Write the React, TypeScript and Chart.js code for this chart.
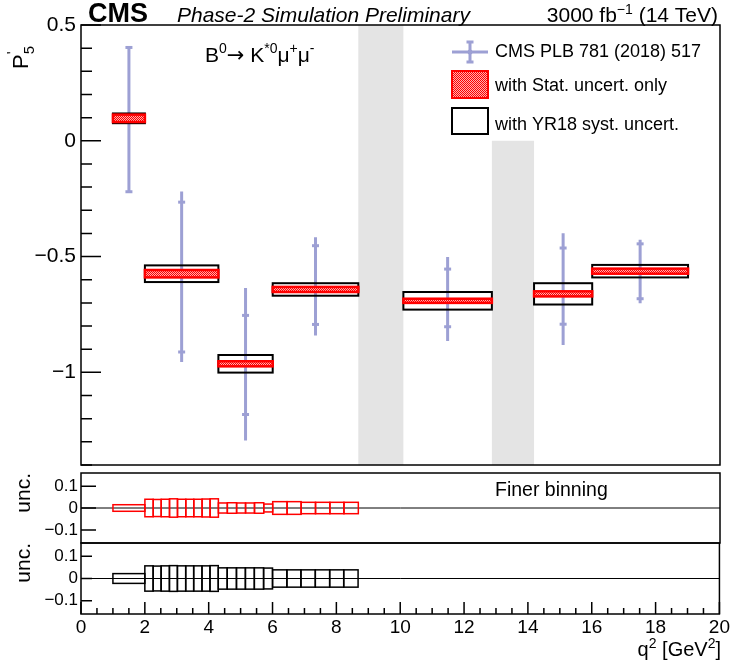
import React, { useEffect, useRef } from "react";
import { Chart, registerables } from "chart.js";
Chart.register(...registerables);

const FONT = "'Liberation Sans', Arial, Helvetica, sans-serif";
const CMS_BLUE = "rgb(157,160,212)";
const RED = "#ff0000";

// ---- main panel data (P5') ----
const binLow = [1, 2, 4.3, 6, 10.09, 14.18, 16];
const binHigh = [2, 4.3, 6, 8.68, 12.86, 16, 19];
const projCentral = [0.097, -0.574, -0.963, -0.642, -0.691, -0.661, -0.563];
const projStat = [0.016, 0.016, 0.011, 0.011, 0.009, 0.011, 0.011];
const projSyst = [0.021, 0.036, 0.038, 0.027, 0.038, 0.046, 0.027];

const cmsX = [1.5, 3.15, 5.15, 7.34, 11.475, 15.09, 17.5];
const cmsCentral = [0.097, -0.574, -0.963, -0.642, -0.691, -0.661, -0.563];
const cmsStatHi = [0.403, -0.265, -0.754, -0.453, -0.554, -0.463, -0.445];
const cmsStatLo = [-0.22, -0.912, -1.182, -0.793, -0.803, -0.792, -0.682];
const cmsTotHi = [0.407, -0.219, -0.636, -0.416, -0.502, -0.399, -0.427];
const cmsTotLo = [-0.223, -0.955, -1.294, -0.841, -0.865, -0.882, -0.701];

const vetoLow = [8.68, 12.86];
const vetoHigh = [10.09, 14.18];
const vetoTop = [0.5, 0];
const vetoBottom = [-1.4, -1.4];

// ---- finer binning uncertainties ----
const fineEdges = [1, 2, 2.26, 2.51, 2.77, 3.02, 3.28, 3.53, 3.79, 4.04, 4.3, 4.58, 4.87, 5.15, 5.43, 5.72, 6, 6.45, 6.89, 7.34, 7.79, 8.23, 8.68];
const fineStat = [0.015, 0.040, 0.039, 0.040, 0.042, 0.040, 0.040, 0.040, 0.041, 0.042, 0.023, 0.024, 0.023, 0.023, 0.024, 0.018, 0.029, 0.029, 0.026, 0.026, 0.026, 0.026];
const fineSyst = [0.022, 0.057, 0.056, 0.057, 0.058, 0.057, 0.057, 0.057, 0.057, 0.058, 0.048, 0.048, 0.048, 0.048, 0.048, 0.047, 0.039, 0.039, 0.039, 0.039, 0.039, 0.039];

// ---- ticks ----
const xTickValues = [0, 2, 4, 6, 8, 10, 12, 14, 16, 18, 20];
const xTickLabels = ["0", "2", "4", "6", "8", "10", "12", "14", "16", "18", "20"];
const mainYTicks = [0.5, 0, -0.5, -1];
const mainYTickLabels = ["0.5", "0", "\u22120.5", "\u22121"];
const uncTicks = [0.1, 0, -0.1];
const uncTickLabels = ["0.1", "0", "\u22120.1"];

type Part = { t: string; size: number; style?: string; dy?: number; family?: string };
function drawParts(ctx: CanvasRenderingContext2D, parts: Part[], x: number, y: number, align: "left" | "right") {
  ctx.textAlign = "left";
  ctx.textBaseline = "alphabetic";
  const widths = parts.map((p) => {
    ctx.font = `${p.style || ""} ${p.size}px ${p.family || FONT}`;
    return ctx.measureText(p.t).width;
  });
  const total = widths.reduce((a, b) => a + b, 0);
  let cx = align === "right" ? x - total : x;
  parts.forEach((p, i) => {
    ctx.font = `${p.style || ""} ${p.size}px ${p.family || FONT}`;
    ctx.fillText(p.t, cx, y + (p.dy || 0));
    cx += widths[i];
  });
}

let patternCache: CanvasPattern | null = null;
function redPattern(ctx: CanvasRenderingContext2D) {
  if (patternCache) return patternCache;
  const c = document.createElement("canvas");
  c.width = 2;
  c.height = 2;
  const p = c.getContext("2d")!;
  p.fillStyle = "#ffb0b0";
  p.fillRect(0, 0, 2, 2);
  p.fillStyle = RED;
  p.fillRect(0, 0, 1, 1);
  p.fillRect(1, 1, 1, 1);
  patternCache = ctx.createPattern(c, "repeat");
  return patternCache!;
}

function drawFrame(ctx: CanvasRenderingContext2D, a: any) {
  ctx.save();
  ctx.strokeStyle = "#000";
  ctx.lineWidth = 1.5;
  ctx.strokeRect(a.left, a.top, a.right - a.left, a.bottom - a.top);
  ctx.restore();
}

const mainDecor = {
  id: "mainDecor",
  beforeDatasetsDraw(chart: any) {
    const { ctx, scales } = chart;
    const { x, y } = scales;
    ctx.save();
    ctx.fillStyle = "#e4e4e4";
    for (let i = 0; i < vetoLow.length; i++) {
      const x1 = x.getPixelForValue(vetoLow[i]);
      const x2 = x.getPixelForValue(vetoHigh[i]);
      const y1 = y.getPixelForValue(vetoTop[i]);
      const y2 = y.getPixelForValue(vetoBottom[i]);
      ctx.fillRect(x1, y1, x2 - x1, y2 - y1);
    }
    ctx.restore();
  },
  afterDatasetsDraw(chart: any) {
    const { ctx, scales, chartArea } = chart;
    const { x, y } = scales;
    ctx.save();
    // syst boxes
    ctx.strokeStyle = "#000";
    ctx.lineWidth = 2;
    for (let i = 0; i < binLow.length; i++) {
      const x1 = x.getPixelForValue(binLow[i]);
      const x2 = x.getPixelForValue(binHigh[i]);
      const y1 = y.getPixelForValue(projCentral[i] + projSyst[i]);
      const y2 = y.getPixelForValue(projCentral[i] - projSyst[i]);
      ctx.strokeRect(x1, y1, x2 - x1, y2 - y1);
    }
    // stat boxes
    for (let i = 0; i < binLow.length; i++) {
      const x1 = x.getPixelForValue(binLow[i]);
      const x2 = x.getPixelForValue(binHigh[i]);
      const y1 = y.getPixelForValue(projCentral[i] + projStat[i]);
      const y2 = y.getPixelForValue(projCentral[i] - projStat[i]);
      ctx.fillStyle = redPattern(ctx);
      ctx.fillRect(x1, y1, x2 - x1, y2 - y1);
      ctx.strokeStyle = RED;
      ctx.lineWidth = 2.5;
      ctx.strokeRect(x1, y1, x2 - x1, y2 - y1);
    }
    ctx.restore();
    drawFrame(ctx, chartArea);
    // inward ticks
    ctx.save();
    ctx.strokeStyle = "#000";
    ctx.lineWidth = 1.5;
    ctx.beginPath();
    for (let k = -14; k <= 5; k++) {
      const v = k / 10;
      const py = y.getPixelForValue(v);
      const major = k % 5 === 0;
      ctx.moveTo(chartArea.left, py);
      ctx.lineTo(chartArea.left + (major ? 20 : 11), py);
    }
    ctx.stroke();
    ctx.restore();
  },
  afterDraw(chart: any) {
    const { ctx } = chart;
    ctx.save();
    ctx.fillStyle = "#000";
    drawParts(ctx, [{ t: "CMS", size: 27, style: "bold" }], 88, 22, "left");
    drawParts(ctx, [{ t: "Phase-2 Simulation Preliminary", size: 21, style: "italic" }], 177, 22, "left");
    drawParts(
      ctx,
      [
        { t: "3000 fb", size: 21 },
        { t: "\u22121", size: 14, dy: -8 },
        { t: " (14 TeV)", size: 21 },
      ],
      718,
      22,
      "right"
    );
    drawParts(
      ctx,
      [
        { t: "B", size: 21 },
        { t: "0", size: 14, dy: -9 },
        { t: "\u2192", size: 21, family: "'DejaVu Sans', sans-serif" },
        { t: " K", size: 21 },
        { t: "*0", size: 14, dy: -9 },
        { t: "\u03bc", size: 21 },
        { t: "+", size: 14, dy: -9 },
        { t: "\u03bc", size: 21 },
        { t: "-", size: 14, dy: -9 },
      ],
      205,
      62,
      "left"
    );
    // y title P'_5
    ctx.save();
    ctx.translate(28, 69);
    ctx.rotate(-Math.PI / 2);
    ctx.textAlign = "left";
    ctx.font = `22px ${FONT}`;
    ctx.fillText("P", 0, 0);
    const pw = ctx.measureText("P").width;
    ctx.font = `15px ${FONT}`;
    ctx.fillText("5", pw, 6);
    ctx.fillText("'", pw, -11);
    ctx.restore();

    // legend
    ctx.save();
    ctx.strokeStyle = CMS_BLUE;
    ctx.fillStyle = CMS_BLUE;
    ctx.lineWidth = 3;
    ctx.beginPath();
    ctx.moveTo(452, 52);
    ctx.lineTo(488, 52);
    ctx.moveTo(470, 42);
    ctx.lineTo(470, 62);
    ctx.moveTo(466.5, 42);
    ctx.lineTo(473.5, 42);
    ctx.moveTo(466.5, 62);
    ctx.lineTo(473.5, 62);
    ctx.stroke();
    ctx.beginPath();
    ctx.arc(470, 52, 2.5, 0, Math.PI * 2);
    ctx.fill();
    ctx.fillStyle = redPattern(ctx);
    ctx.fillRect(452, 71, 36, 27);
    ctx.strokeStyle = RED;
    ctx.lineWidth = 2;
    ctx.strokeRect(452, 71, 36, 27);
    ctx.strokeStyle = "#000";
    ctx.strokeRect(452, 108, 36, 26);
    ctx.restore();
    ctx.fillStyle = "#000";
    drawParts(ctx, [{ t: "CMS PLB 781 (2018) 517", size: 18 }], 495, 57, "left");
    drawParts(ctx, [{ t: "with Stat. uncert. only", size: 18 }], 495, 91, "left");
    drawParts(ctx, [{ t: "with YR18 syst. uncert.", size: 18 }], 495, 130, "left");
    ctx.restore();
  },
};

function makeUncDecor(id: string, values: number[], color: string, tickLen: number, opts: { finer?: boolean; xTicks?: boolean }) {
  return {
    id,
    afterDatasetsDraw(chart: any) {
      const { ctx, scales, chartArea } = chart;
      const { x, y } = scales;
      ctx.save();
      ctx.strokeStyle = color;
      ctx.lineWidth = 1.5;
      for (let i = 0; i < values.length; i++) {
        const x1 = x.getPixelForValue(fineEdges[i]);
        const x2 = x.getPixelForValue(fineEdges[i + 1]);
        const y1 = y.getPixelForValue(values[i]);
        const y2 = y.getPixelForValue(-values[i]);
        ctx.strokeRect(x1, y1, x2 - x1, y2 - y1);
      }
      ctx.restore();
      drawFrame(ctx, chartArea);
      ctx.save();
      ctx.strokeStyle = "#000";
      ctx.lineWidth = 1.5;
      ctx.beginPath();
      for (const v of uncTicks) {
        const py = y.getPixelForValue(v);
        ctx.moveTo(chartArea.left, py);
        ctx.lineTo(chartArea.left + tickLen, py);
      }
      if (opts.xTicks) {
        for (let k = 0; k <= 40; k++) {
          const px = x.getPixelForValue(k / 2);
          const major = k % 4 === 0;
          ctx.moveTo(px, chartArea.bottom);
          ctx.lineTo(px, chartArea.bottom - (major ? 12 : 6));
        }
      }
      ctx.stroke();
      ctx.restore();
    },
    afterDraw(chart: any) {
      const { ctx, chartArea } = chart;
      ctx.save();
      ctx.fillStyle = "#000";
      ctx.save();
      ctx.translate(30, chartArea.top);
      ctx.rotate(-Math.PI / 2);
      ctx.textAlign = "right";
      ctx.textBaseline = "alphabetic";
      ctx.font = `21px ${FONT}`;
      ctx.fillText("unc.", 0, 0);
      ctx.restore();
      if (opts.finer) {
        drawParts(ctx, [{ t: "Finer binning", size: 19.5 }], 495, 496, "left");
      }
      if (opts.xTicks) {
        drawParts(
          ctx,
          [
            { t: "q", size: 20 },
            { t: "2", size: 14, dy: -8 },
            { t: " [GeV", size: 20 },
            { t: "2", size: 14, dy: -8 },
            { t: "]", size: 20 },
          ],
          721,
          656,
          "right"
        );
      }
      ctx.restore();
    },
  };
}

function mainConfig(): any {
  const errLine: any[] = [];
  const caps: any[] = [];
  const central: any[] = [];
  for (let i = 0; i < cmsX.length; i++) {
    errLine.push({ x: cmsX[i], y: cmsTotLo[i] }, { x: cmsX[i], y: cmsTotHi[i] }, { x: cmsX[i], y: null });
    caps.push({ x: cmsX[i], y: cmsStatHi[i] }, { x: cmsX[i], y: cmsStatLo[i] });
    central.push({ x: cmsX[i], y: cmsCentral[i] });
  }
  return {
    type: "scatter",
    data: {
      datasets: [
        { label: "CMS PLB 781 (2018) 517", data: errLine, showLine: true, spanGaps: false, borderColor: CMS_BLUE, borderWidth: 3, pointRadius: 0, fill: false },
        { label: "stat caps", data: caps, pointStyle: "line", pointRadius: 3.5, pointBorderWidth: 3, borderColor: CMS_BLUE, backgroundColor: CMS_BLUE },
        { label: "central", data: central, pointRadius: 2, borderColor: CMS_BLUE, backgroundColor: CMS_BLUE },
      ],
    },
    options: {
      responsive: false,
      animation: false,
      devicePixelRatio: 1,
      events: [],
      layout: { padding: { left: 0, right: 12, top: 25, bottom: 201 } },
      plugins: { legend: { display: false }, tooltip: { enabled: false } },
      scales: {
        x: { type: "linear", min: 0, max: 20, display: false },
        y: {
          type: "linear",
          min: -1.4,
          max: 0.5,
          afterFit: (s: any) => {
            s.width = 81;
          },
          afterBuildTicks: (s: any) => {
            s.ticks = mainYTicks.map((v) => ({ value: v }));
          },
          ticks: {
            callback: (_v: any, i: number) => mainYTickLabels[i],
            font: { family: FONT, size: 21 },
            color: "#000",
            padding: 5,
            autoSkip: false,
          },
          grid: { display: false, drawTicks: false },
          border: { display: false },
        },
      },
    },
    plugins: [mainDecor],
  };
}

function uncConfig(top: number, bottomPad: number, values: number[], color: string, tickLen: number, opts: { finer?: boolean; xTicks?: boolean }): any {
  return {
    type: "scatter",
    data: {
      datasets: [
        { label: "zero", data: [{ x: 0, y: 0 }, { x: 20, y: 0 }], showLine: true, borderColor: "#000", borderWidth: 1, pointRadius: 0 },
      ],
    },
    options: {
      responsive: false,
      animation: false,
      devicePixelRatio: 1,
      events: [],
      layout: { padding: { left: 0, right: 12, top, bottom: bottomPad } },
      plugins: { legend: { display: false }, tooltip: { enabled: false } },
      scales: {
        x: opts.xTicks
          ? {
              type: "linear",
              min: 0,
              max: 20,
              afterFit: (s: any) => {
                s.height = 40;
              },
              afterBuildTicks: (s: any) => {
                s.ticks = xTickValues.map((v) => ({ value: v }));
              },
              ticks: {
                callback: (_v: any, i: number) => xTickLabels[i],
                font: { family: FONT, size: 19 },
                color: "#000",
                padding: 2,
                maxRotation: 0,
                autoSkip: false,
              },
              grid: { display: false, drawTicks: false },
              border: { display: false },
            }
          : { type: "linear", min: 0, max: 20, display: false },
        y: {
          type: "linear",
          min: -0.16,
          max: 0.16,
          afterFit: (s: any) => {
            s.width = 81;
          },
          afterBuildTicks: (s: any) => {
            s.ticks = uncTicks.map((v) => ({ value: v }));
          },
          ticks: {
            callback: (_v: any, i: number) => uncTickLabels[i],
            font: { family: FONT, size: 17 },
            color: "#000",
            padding: 3,
            autoSkip: false,
          },
          grid: { display: false, drawTicks: false },
          border: { display: false },
        },
      },
    },
    plugins: [makeUncDecor("unc" + color.replace("#", ""), values, color, tickLen, opts)],
  };
}

export default function App() {
  const r1 = useRef<HTMLCanvasElement>(null);
  const r2 = useRef<HTMLCanvasElement>(null);
  const r3 = useRef<HTMLCanvasElement>(null);
  useEffect(() => {
    const charts = [
      new Chart(r1.current!, mainConfig()),
      new Chart(r2.current!, uncConfig(473, 666 - 543, fineStat, RED, 15, { finer: true })),
      new Chart(r3.current!, uncConfig(543, 666 - 614 - 40, fineSyst, "#000000", 11, { xTicks: true })),
    ];
    return () => charts.forEach((c) => c.destroy());
  }, []);
  const cs: React.CSSProperties = { position: "absolute", left: 0, top: 0 };
  return (
    <div style={{ position: "absolute", left: 0, top: 0, width: 732, height: 666, background: "#fff", overflow: "hidden" }}>
      <canvas ref={r1} width={732} height={666} style={cs} />
      <canvas ref={r2} width={732} height={666} style={cs} />
      <canvas ref={r3} width={732} height={666} style={cs} />
    </div>
  );
}
